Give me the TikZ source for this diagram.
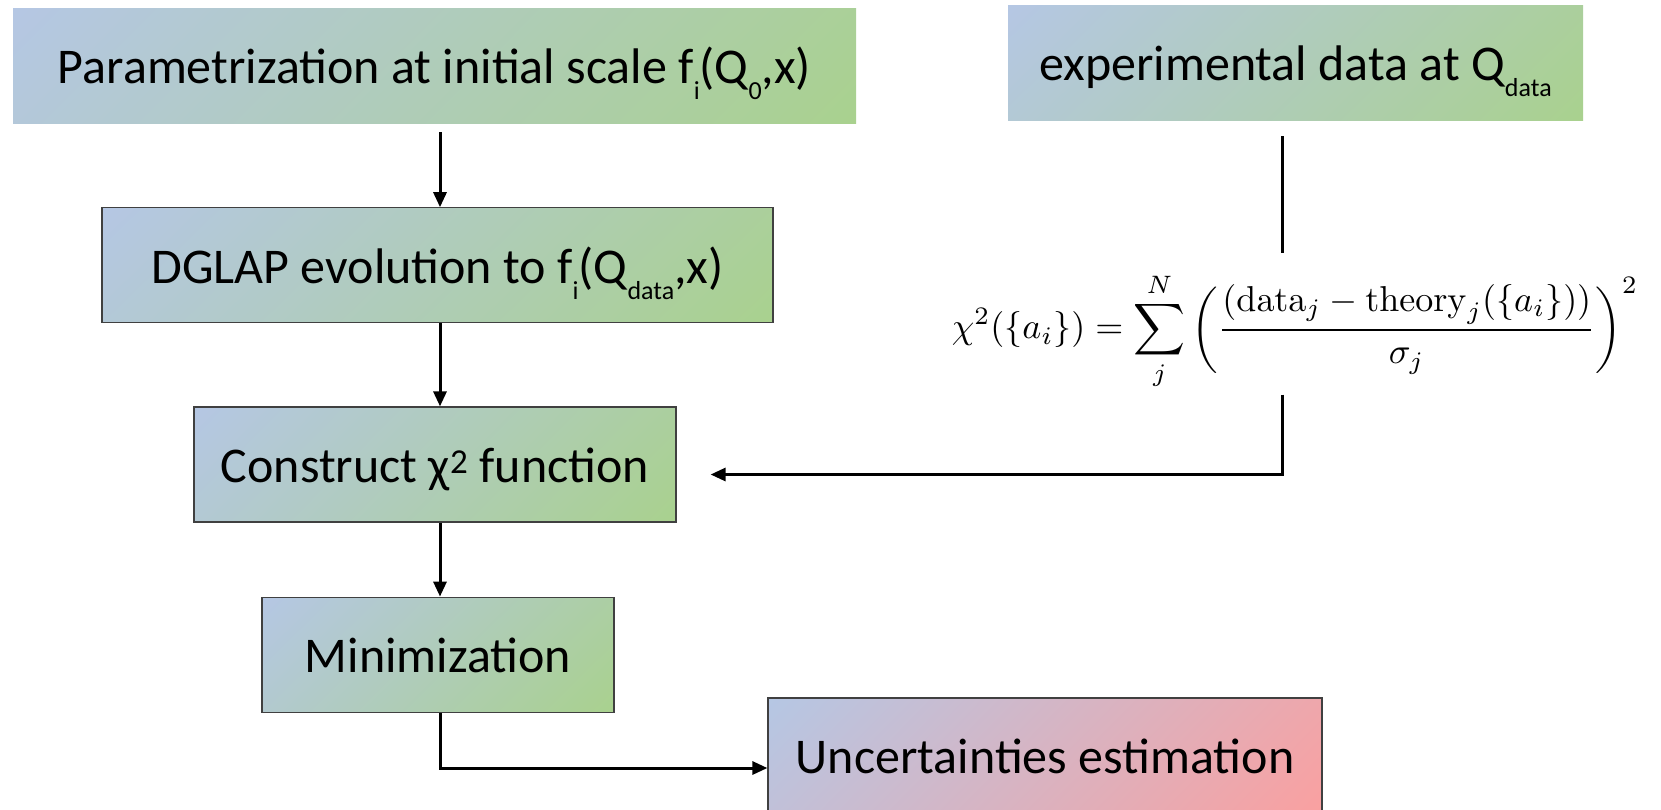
\documentclass[tikz,border=0pt]{standalone}
\usepackage[no-math]{fontspec}
\setmainfont{Carlito}
\usepackage{amsmath}
\usetikzlibrary{positioning,arrows.meta,shadings}
\definecolor{boxblue}{RGB}{181,199,228}
\definecolor{boxgreen}{RGB}{169,209,142}
\definecolor{boxred}{RGB}{250,160,160}
\newcommand{\lowsub}[1]{\raisebox{-16pt}{\fontsize{26}{26}\selectfont #1}}

\begin{document}
\begin{tikzpicture}[
			x=1pt, y=-1pt,
			box/.style={rectangle, minimum height=115pt, inner sep=0pt, text height=36pt, text depth=0pt,
				font=\fontsize{50}{60}\selectfont},
			grad/.style={upper left=boxblue, lower right=boxgreen,
				upper right=boxgreen!#1!boxblue, lower left=boxblue!#1!boxgreen},
			redgrad/.style={upper left=boxblue, lower right=boxred,
				upper right=boxred!#1!boxblue, lower left=boxblue!#1!boxred},
			framed/.style={box, draw=black!75, line width=1.2pt},
			arrow/.style={-{Stealth[length=15pt,width=13pt,inset=0pt]}, line width=3pt},
			line/.style={line width=3pt}
			]
			\useasboundingbox (0,0) rectangle (1661,809);
			\clip (0,0) rectangle (1661,809);
			% Nodes
			\node[box, grad=88, minimum width=843pt] (param) at (434.5,65.5) {Parametrization at initial scale f\lowsub{i}(Q\lowsub{0},x)};
			\node[box, grad=83, minimum width=575pt] (data) at (1295.5,62.5) {experimental data at Q\lowsub{data}};
			\node[framed, grad=85, minimum width=671pt, below=84pt of param, xshift=3pt] (dglap) {DGLAP evolution to f\lowsub{i}(Q\lowsub{data},x)};
			\node[framed, grad=81, minimum width=482pt, below=83pt of dglap, xshift=-2.5pt] (chisq) {Construct χ\textsuperscript{2} function};
			\node[framed, grad=75, minimum width=352pt, below=74pt of chisq, xshift=3pt] (minim) {Minimization};
			\node[framed, redgrad=83, minimum width=554pt] (unc) at (1045,755.5) {Uncertainties estimation};
			\node[inner sep=0pt, scale=3.6] (formula) at (1295,331.5)
				{$\displaystyle \chi^2(\{a_i\}) = \sum_j^N \left( \frac{(\mathrm{data}_j - \mathrm{theory}_j(\{a_i\}))}{\sigma_j} \right)^2$};
			
			% Main chain
			\coordinate (spine) at (440,0);
			\coordinate (dline) at (1282,0);
			\draw[arrow, shorten <=9pt] (param.south -| spine) -- (dglap.north -| spine);
			\draw[arrow] (dglap.south -| spine) -- (chisq.north -| spine);
			\draw[arrow] (chisq.south -| spine) -- (minim.north -| spine);
			\draw[arrow] (minim.south -| spine) |- ([yshift=-12.5pt]unc.west);
			
			% Data branch
			\draw[line, shorten <=16pt, shorten >=19pt] (data.south -| dline) -- (formula.north -| dline);
			\draw[arrow, shorten <=4pt, shorten >=34pt] (formula.south -| dline) |- ([yshift=-10pt]chisq.east);
		\end{tikzpicture}
\end{document}
